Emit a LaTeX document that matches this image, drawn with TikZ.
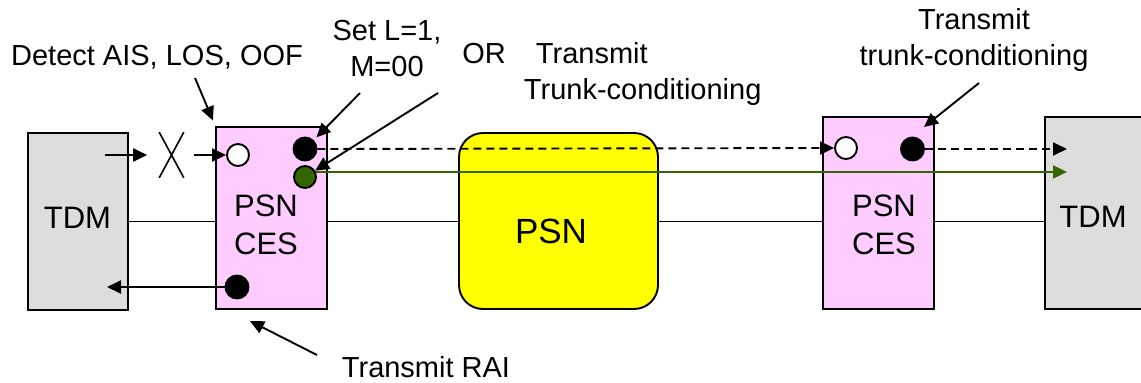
\documentclass[tikz,border=0pt]{standalone}
\usepackage{fontspec}
\setmainfont{Liberation Sans}
\usetikzlibrary{arrows.meta,shapes.misc}
\definecolor{tdmgrey}{HTML}{DDDDDD}
\definecolor{cespink}{HTML}{FFCCFF}
\definecolor{psnyellow}{HTML}{FFFF00}
\definecolor{trunkgreen}{HTML}{336600}

\begin{document}
\begin{tikzpicture}[
  x=1pt, y=-1pt,
  line width=1.9pt,
  font=\fontsize{29}{36}\selectfont,
  tdmbox/.style={draw, fill=tdmgrey, minimum width=100pt, inner sep=0pt},
  cesbox/.style={draw, fill=cespink, minimum width=111pt, inner sep=0pt},
  psnbox/.style={draw, fill=psnyellow, rounded corners=24pt, minimum width=199pt, minimum height=176pt, inner sep=0pt},
  hole/.style={circle, draw, fill=white, minimum size=22pt, inner sep=0pt},
  dot/.style={circle, draw, fill=black, minimum size=23pt, inner sep=0pt},
  note/.style={inner sep=0pt, align=center},
  arrow/.style={-{Triangle[length=14pt,width=13pt]}},
  signal/.style={arrow, dash pattern=on 8pt off 5pt},
  trunk/.style={arrow, draw=trunkgreen}
]
  \useasboundingbox (0,0) rectangle (1141,383);

  % boxes
  \node[tdmbox, minimum height=177pt] (tdmL) at (78,221.5) {};
  \node[cesbox, minimum height=182pt] (cesL) at (271.75,218) {};
  \node[psnbox] (psn) at (558.5,221) {};
  \node[cesbox, minimum height=192pt] (cesR) at (878.5,213) {};
  \node[tdmbox, minimum height=192pt] (tdmR) at (1095,213) {};

  \node[inner sep=0pt, anchor=base] (tdmLtxt) at (77.5,228) {\fontsize{31}{38}\selectfont TDM};
  \node[note, font=\fontsize{31}{38}\selectfont] (cesLtxt) at (266,225) {PSN\\CES};
  \node[inner sep=0pt, anchor=base] (psntxt) at (551,243) {\fontsize{35}{42}\selectfont PSN};
  \node[note, font=\fontsize{31}{38}\selectfont] (cesRtxt) at (884,225) {PSN\\CES};
  \node[inner sep=0pt, anchor=base] (tdmRtxt) at (1093,227) {\fontsize{31}{38}\selectfont TDM};

  % line between the boxes
  \draw (tdmL.east) -- (tdmL.east -| cesL.west)
        (cesL.east |- tdmL.east) -- (tdmL.east -| psn.west)
        (psn.east |- tdmL.east) -- (tdmL.east -| cesR.west)
        (cesR.east |- tdmL.east) -- (tdmL.east -| tdmR.west);

  % points in the CES boxes
  \node[hole] (losIn) at (238,155) {};
  \node[dot] (lSet) at (305,149) {};
  \node[dot, fill=trunkgreen, minimum size=22pt] (trunkL) at (305,177) {};
  \node[dot] (raiOut) at (237,287) {};
  \node[hole] (rxIn) at (846,148) {};
  \node[dot] (trunkR) at (912.5,149) {};

  \node[cross out, draw, line width=1.6pt, minimum width=23pt, minimum height=44pt, inner sep=0pt] (brk) at (171.5,155) {};

  \coordinate (alarmSrc) at (105,155);
  \coordinate (tdmRtip) at (1067,149);
  \coordinate (raiTip) at (107,287);

  \draw[arrow, shorten >=12pt] (alarmSrc) -- (brk.west);
  \draw[arrow, shorten <=10pt] (brk.east) -- (losIn.west);
  \draw[signal] (lSet.east) -- (rxIn.west);
  \draw[signal] (trunkR.east) -- (tdmRtip);
  \draw[trunk] (trunkL.25) -- (trunkL.25 -| tdmRtip);
  \draw[arrow] (raiOut.west) -- (raiTip);

  % notes
  \node[note, anchor=base] (detectNote) at (157,65) {Detect AIS, LOS, OOF};
  \node[note] (setNote) at (387,49) {Set L=1,\\M=00};
  \node[note, anchor=base] (orNote) at (484,63) {OR};
  \node[note, align=left, anchor=west] (txNote) at (523,74) {\hspace*{12pt}Transmit\\Trunk-conditioning};
  \node[note] (rightNote) at (974,40) {Transmit\\trunk-conditioning};
  \node[note, anchor=base] (raiNote) at (426,377) {Transmit RAI};

  \coordinate (detectTail) at (195,78);
  \coordinate (setTail) at (360,93);
  \coordinate (orTail) at (438,93);
  \coordinate (trunkTail) at (979,83);
  \coordinate (trunkTip) at (924,127);
  \coordinate (raiTail) at (317,355);
  \coordinate (raiHead) at (250,321);

  \draw[arrow, shorten >=6pt] (detectTail) -- (cesL.north west);
  \draw[arrow, shorten >=4pt] (setTail) -- (lSet);
  \draw[arrow] (orTail) -- (trunkL);
  \draw[arrow] (trunkTail) -- (trunkTip);
  \draw[arrow] (raiTail) -- (raiHead);
\end{tikzpicture}
\end{document}
